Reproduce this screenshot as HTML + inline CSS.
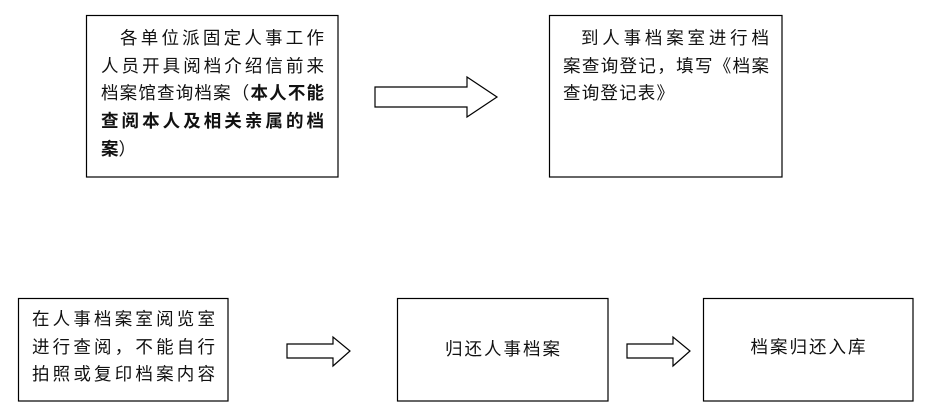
<!DOCTYPE html>
<html>
<head>
<meta charset="utf-8">
<style>
html,body{margin:0;padding:0;background:#fff;}
#c{position:relative;width:926px;height:417px;overflow:hidden;background:#fff;}
svg{position:absolute;left:0;top:0;}
.t{position:absolute;font-family:"Liberation Sans","Noto Sans CJK SC",sans-serif;font-size:17.5px;color:#111;white-space:nowrap;}
.j{text-align:justify;text-align-last:justify;}
.b{font-weight:700;}
</style>
</head>
<body>
<div id="c">
<svg width="926" height="417" viewBox="0 0 926 417">
  <g fill="#fff" stroke="#000" stroke-width="1.2">
    <rect x="86.5" y="15.5" width="251.5" height="161.5"/>
    <rect x="549.5" y="15.5" width="232.5" height="161.5"/>
    <rect x="18.5" y="298.5" width="209.5" height="102.5"/>
    <rect x="397.5" y="298.5" width="210.5" height="102.5"/>
    <rect x="703.5" y="298.5" width="209.5" height="102.5"/>
    <polygon points="375,87 467,87 467,77 497,97 467,117 467,107 375,107"/>
    <polygon points="287,344 333,344 333,337 350,351 333,366 333,358 287,358"/>
    <polygon points="627,344 673,344 673,337 690,351 673,366 673,358 627,358"/>
  </g>
</svg>

<!-- Box 1 -->
<div class="t" style="left:0;top:25px;line-height:27.7px;">
  <div class="j" style="position:absolute;left:120px;top:0;width:204px;">各单位派固定人事工作</div>
  <div class="j" style="position:absolute;left:101px;top:27.7px;width:223px;">人员开具阅档介绍信前来</div>
  <div class="j" style="position:absolute;left:101px;top:55.4px;width:223px;">档案馆查询档案（<span class="b">本人不能</span></div>
  <div class="j b" style="position:absolute;left:101px;top:83.1px;width:223px;">查阅本人及相关亲属的档</div>
  <div style="position:absolute;left:101px;top:110.8px;"><span class="b">案</span>）</div>
</div>

<!-- Box 2 -->
<div class="t" style="left:0;top:25px;line-height:27.7px;">
  <div class="j" style="position:absolute;left:581px;top:0;width:188px;">到人事档案室进行档</div>
  <div class="j" style="position:absolute;left:563px;top:27.7px;width:206px;">案查询登记，填写《档案</div>
  <div style="position:absolute;left:563px;top:55.4px;letter-spacing:1.2px;">查询登记表》</div>
</div>

<!-- Box 3 -->
<div class="t" style="left:0;top:306px;line-height:27.5px;">
  <div class="j" style="position:absolute;left:32px;top:0;width:183px;">在人事档案室阅览室</div>
  <div class="j" style="position:absolute;left:32px;top:27.5px;width:183px;">进行查阅，不能自行</div>
  <div class="j" style="position:absolute;left:32px;top:55px;width:183px;">拍照或复印档案内容</div>
</div>

<!-- Box 4 -->
<div class="t" style="left:397px;top:335px;width:211px;line-height:28px;text-align:center;letter-spacing:2px;text-indent:2px;">归还人事档案</div>

<!-- Box 5 -->
<div class="t" style="left:703px;top:333px;width:210px;line-height:28px;text-align:center;letter-spacing:2px;text-indent:2px;">档案归还入库</div>
</div>
</body>
</html>
